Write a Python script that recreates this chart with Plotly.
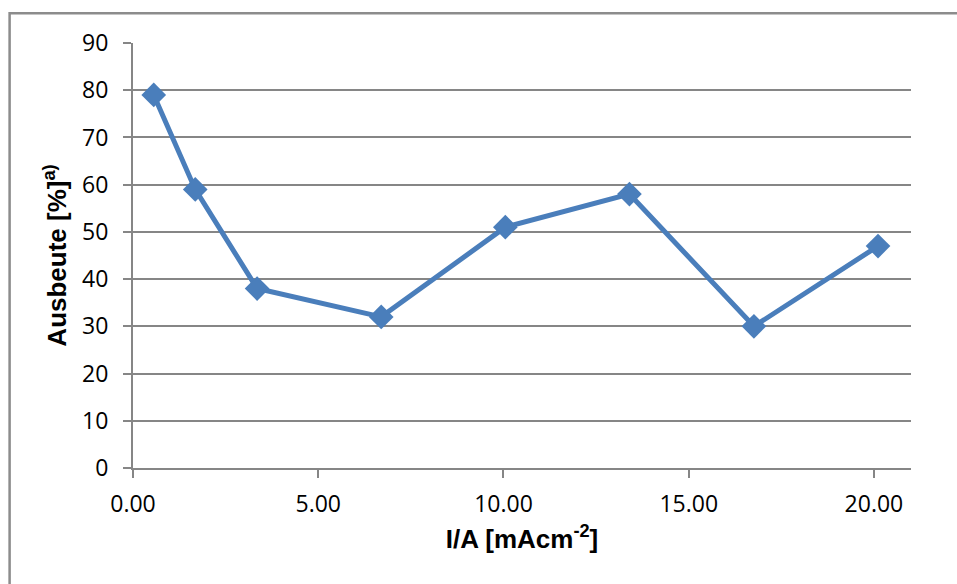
import plotly.graph_objects as go

# Stromdichte (mA/cm²) und Ausbeute (%)
current_density = [0.56, 1.68, 3.35, 6.70, 10.05, 13.40, 16.76, 20.11]
yield_pct = [79, 59, 38, 32, 51, 58, 30, 47]

x_ticks = [0, 5, 10, 15, 20]
x_tick_text = ["0.00", "5.00", "10.00", "15.00", "20.00"]
y_ticks = list(range(0, 91, 10))

GRID = "#868686"
BLUE = "#4a7ebb"
TICK_FONT = dict(family="Open Sans, Noto Sans, sans-serif", size=23, color="black")
TITLE_FONT = dict(family="Liberation Sans, Arial, sans-serif", size=26, color="black", weight="bold")

fig = go.Figure()
fig.add_trace(go.Scatter(
    x=current_density,
    y=yield_pct,
    mode="lines+markers",
    line=dict(color=BLUE, width=5),
    marker=dict(symbol="diamond", size=19, color=BLUE),
    showlegend=False,
))

fig.update_layout(
    width=957,
    height=584,
    margin=dict(l=133, r=46, t=43, b=116),
    paper_bgcolor="white",
    plot_bgcolor="white",
    xaxis=dict(
        range=[0, 21],
        tickvals=x_ticks,
        ticktext=x_tick_text,
        showgrid=False,
        zeroline=False,
        showline=True,
        linecolor=GRID,
        linewidth=2,
        ticks="outside",
        ticklen=8,
        tickwidth=2,
        tickcolor=GRID,
        tickfont=TICK_FONT,
        ticklabelstandoff=6,
        title=dict(text="I/A [mAcm<sup>-2</sup>]", font=TITLE_FONT, standoff=12),
    ),
    yaxis=dict(
        range=[0, 90],
        tickvals=y_ticks,
        showgrid=True,
        gridcolor=GRID,
        gridwidth=1.5,
        zeroline=False,
        showline=True,
        linecolor=GRID,
        linewidth=2,
        ticks="outside",
        ticklen=8,
        tickwidth=2,
        tickcolor=GRID,
        tickfont=TICK_FONT,
        ticklabelstandoff=10,
        title=dict(text="Ausbeute [%]<sup>a)</sup>", font=TITLE_FONT, standoff=8),
    ),
    shapes=[
        # chart frame
        dict(type="rect", xref="paper", yref="paper",
             x0=-0.1586, x1=1.3, y0=-0.5, y1=1.070,
             line=dict(color="#8c8c8c", width=2.5), fillcolor="rgba(0,0,0,0)", layer="below"),
    ],
)

fig.write_html("out.html")
